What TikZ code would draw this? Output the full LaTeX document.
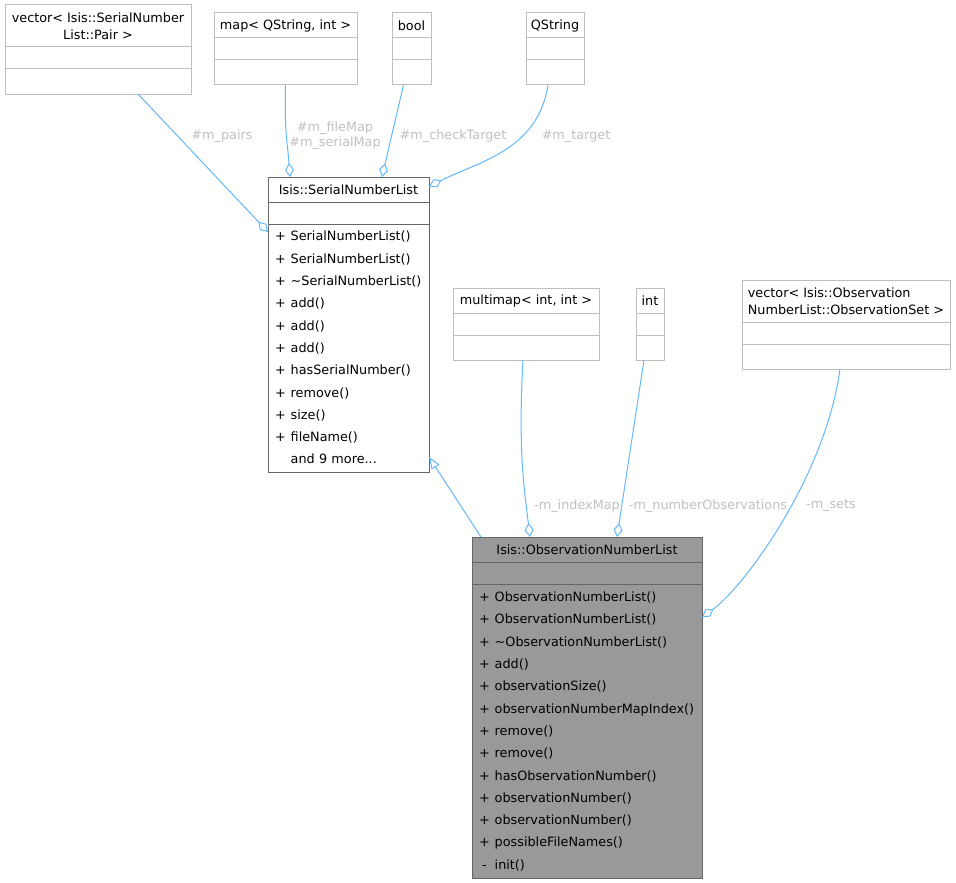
\documentclass[tikz,border=0pt]{standalone}
\usepackage{fontspec}
\setmainfont{DejaVu Sans}
\usetikzlibrary{arrows.meta, positioning}
\definecolor{cedge}{HTML}{63B8FF}
\definecolor{cline}{HTML}{BFBFBF}
\definecolor{cmain}{HTML}{666666}
\definecolor{cfill}{HTML}{999999}
\definecolor{clabel}{HTML}{C0C0C0}
\tikzset{
  every picture/.style={font=\fontsize{12.8}{16.5}\selectfont, line width=1pt},
  cls/.style={draw=cline, fill=white, inner sep=0pt, outer sep=0pt, minimum width=#1, minimum height=22pt, anchor=north west, align=center},
  main/.style={draw=cmain, fill=cfill},
  mem/.style 2 args={cls=#1, text width=#2, inner xsep=7pt, align=left, font=\fontsize{12.8}{22.3}\selectfont},
  agg/.style={draw=cedge, -{Diamond[open, length=14pt, width=9pt]}},
  inh/.style={draw=cedge, -{Triangle[open, length=12pt, width=9pt]}},
  lbl/.style={text=clabel, align=center, inner sep=0pt, font=\fontsize{12.8}{15}\selectfont},
}

\begin{document}
\begin{tikzpicture}[x=1pt, y=-1pt]
  \useasboundingbox (0,0) rectangle (956,883);
  % types used by Isis::SerialNumberList
  \node[cls=186pt, minimum height=42pt] (vpair) at (5,5) {vector< Isis::SerialNumber\\List::Pair >};
  \node[cls=186pt, below=0pt of vpair] (vpaira) {};
  \node[cls=186pt, minimum height=25pt, below=0pt of vpaira] (vpairm) {};
  \node[cls=143pt, minimum height=25pt] (map) at (214,13) {map< QString, int >};
  \node[cls=143pt, below=0pt of map] (mapa) {};
  \node[cls=143pt, minimum height=25pt, below=0pt of mapa] (mapm) {};
  \node[cls=39pt, minimum height=25pt] (bool) at (392,13) {bool};
  \node[cls=39pt, below=0pt of bool] (boola) {};
  \node[cls=39pt, minimum height=25pt, below=0pt of boola] (boolm) {};
  \node[cls=58pt, minimum height=25pt] (qstr) at (526,13) {QString};
  \node[cls=58pt, below=0pt of qstr] (qstra) {};
  \node[cls=58pt, minimum height=25pt, below=0pt of qstra] (qstrm) {};
  % base class
  \node[cls=161pt, minimum height=25pt, draw=cmain] (snl) at (268,177) {Isis::SerialNumberList};
  \node[cls=161pt, draw=cmain, below=0pt of snl] (snla) {};
  \node[mem={161pt}{147pt}, minimum height=248pt, draw=cmain, below=0pt of snla] (snlm) {%
    \begin{tabular}{@{}c@{\hspace{5pt}}l@{}}
      + & SerialNumberList()\\
      + & SerialNumberList()\\
      + & \textasciitilde SerialNumberList()\\
      + & add()\\
      + & add()\\
      + & add()\\
      + & hasSerialNumber()\\
      + & remove()\\
      + & size()\\
      + & fileName()\\
        & and 9 more...
    \end{tabular}};
  % types used by Isis::ObservationNumberList
  \node[cls=146pt, minimum height=25pt] (mmap) at (453,288) {multimap< int, int >};
  \node[cls=146pt, below=0pt of mmap] (mmapa) {};
  \node[cls=146pt, minimum height=25pt, below=0pt of mmapa] (mmapm) {};
  \node[cls=28pt, minimum height=25pt] (int) at (636,288) {int};
  \node[cls=28pt, below=0pt of int] (inta) {};
  \node[cls=28pt, minimum height=25pt, below=0pt of inta] (intm) {};
  \node[cls=208pt, minimum height=42pt, align=left] (vobs) at (742,280) {vector< Isis::Observation\\NumberList::ObservationSet >};
  \node[cls=208pt, below=0pt of vobs] (vobsa) {};
  \node[cls=208pt, minimum height=25pt, below=0pt of vobsa] (vobsm) {};
  % the class itself
  \node[cls=230pt, main, minimum height=25pt] (onl) at (472,537) {Isis::ObservationNumberList};
  \node[cls=230pt, main, below=0pt of onl] (onla) {};
  \node[mem={230pt}{216pt}, main, minimum height=294pt, below=0pt of onla] (onlm) {%
    \begin{tabular}{@{}c@{\hspace{5pt}}l@{}}
      + & ObservationNumberList()\\
      + & ObservationNumberList()\\
      + & \textasciitilde ObservationNumberList()\\
      + & add()\\
      + & observationSize()\\
      + & observationNumberMapIndex()\\
      + & remove()\\
      + & remove()\\
      + & hasObservationNumber()\\
      + & observationNumber()\\
      + & observationNumber()\\
      + & possibleFileNames()\\
      - & init()
    \end{tabular}};
  % connectors
  \draw[agg] ([xshift=40pt]vpairm.south) -- ([yshift=-8pt]snlm.north west);
  \draw[agg] (mapm.south) .. controls +(-1,50) and +(-3,-40) .. ([xshift=22pt]snl.north west);
  \draw[agg] ([xshift=-8pt]boolm.south) -- ([xshift=114pt]snl.north west);
  \draw[agg] ([xshift=-7pt]qstrm.south) .. controls +(-10,65) and +(50,-25) .. ([yshift=3pt]snl.east);
  \draw[inh] ([xshift=9pt]onl.north west) -- ([yshift=15pt]snlm.south east);
  \draw[agg] ([xshift=-3pt]mmapm.south) .. controls +(-5,90) and +(-6,-50) .. ([xshift=58pt]onl.north west);
  \draw[agg] ([xshift=-6pt]intm.south) -- ([xshift=145pt]onl.north west);
  \draw[agg] ([xshift=-6pt]vobsm.south) .. controls +(-15,110) and +(40,-28) .. ([yshift=-80pt]onl.north east);
  % edge labels
  \node[lbl] (lpairs) at (222,136) {\#m\_pairs};
  \node[lbl] (lmap) at (335,136) {\#m\_fileMap\\\#m\_serialMap};
  \node[lbl] (lcheck) at (453,136) {\#m\_checkTarget};
  \node[lbl] (ltarget) at (576,136) {\#m\_target};
  \node[lbl] (lindex) at (577,506) {-m\_indexMap};
  \node[lbl] (lnum) at (708,506) {-m\_numberObservations};
  \node[lbl] (lsets) at (831,506) {-m\_sets};
\end{tikzpicture}
\end{document}
